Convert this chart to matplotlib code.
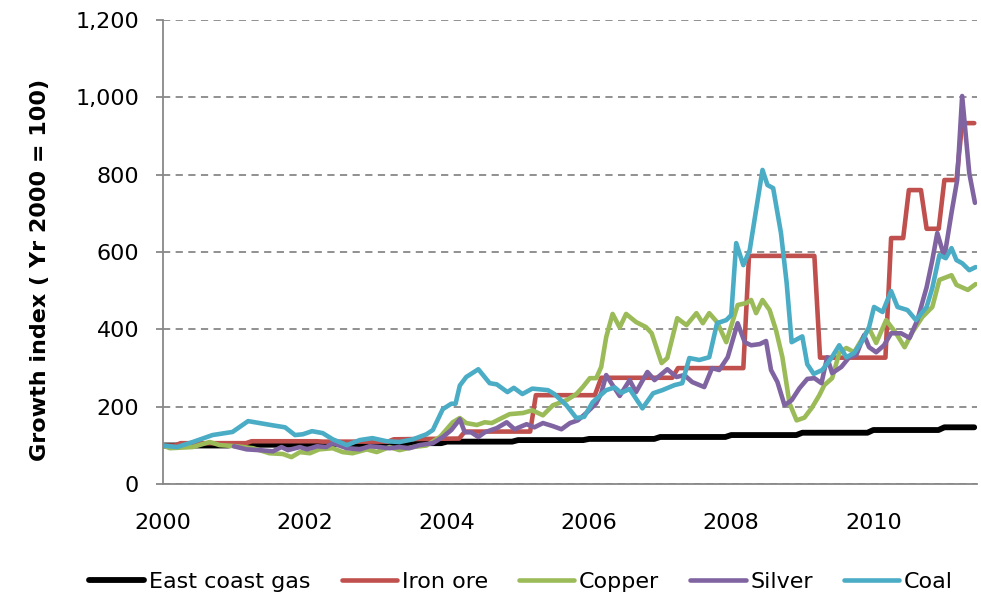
import matplotlib.pyplot as plt
from matplotlib.ticker import FuncFormatter

plt.rcParams['font.family'] = ['DejaVu Sans']

# East coast gas: annual contract index
GAS_YEARS = [2000, 2001, 2002, 2003, 2004, 2005, 2006, 2007, 2008, 2009, 2010, 2011]
GAS_VALUES = [100, 102, 104, 106, 110, 114, 117, 122, 127, 133, 140, 147]
GAS_END = 2011.42

IRON_X = [2000.0, 2000.17, 2000.25, 2001.17, 2001.25, 2002.17, 2002.25, 2003.17, 2003.25,
          2004.17, 2004.25, 2005.17, 2005.25, 2006.08, 2006.17, 2007.17, 2007.25, 2008.17,
          2008.25, 2009.17, 2009.25, 2010.17, 2010.25, 2010.42, 2010.5, 2010.67, 2010.75,
          2010.92, 2011.0, 2011.17, 2011.25, 2011.42]
IRON_Y = [100, 100, 106, 106, 111, 111, 110, 110, 116,
          118, 136, 136, 230, 230, 275, 275, 300, 300,
          590, 590, 327, 327, 636, 636, 760, 760, 660,
          660, 786, 786, 933, 933]

COPPER_X = [2000.0, 2000.1, 2000.42, 2000.66, 2000.8, 2001.04, 2001.27, 2001.5, 2001.69, 2001.81,
            2001.93, 2002.07, 2002.2, 2002.39, 2002.53, 2002.67, 2002.87, 2003.01, 2003.19, 2003.33,
            2003.52, 2003.71, 2003.9, 2004.08, 2004.18, 2004.27, 2004.42, 2004.53, 2004.63, 2004.77,
            2004.88, 2005.07, 2005.2, 2005.35, 2005.49, 2005.68, 2005.82, 2005.91, 2006.01, 2006.1,
            2006.17, 2006.24, 2006.33, 2006.43, 2006.52, 2006.66, 2006.8, 2006.88, 2007.02, 2007.1,
            2007.24, 2007.37, 2007.51, 2007.6, 2007.69, 2007.8, 2007.93, 2008.09, 2008.21, 2008.28,
            2008.35, 2008.44, 2008.54, 2008.63, 2008.72, 2008.82, 2008.92, 2009.03, 2009.14, 2009.24,
            2009.31, 2009.42, 2009.52, 2009.62, 2009.73, 2009.85, 2009.94, 2010.04, 2010.18, 2010.32,
            2010.44, 2010.55, 2010.69, 2010.83, 2010.93, 2011.1, 2011.17, 2011.33, 2011.44]
COPPER_Y = [100, 93, 96, 109, 101, 98, 93, 80, 78, 70,
            83, 80, 90, 93, 83, 80, 90, 83, 96, 88,
            96, 100, 122, 160, 171, 158, 153, 160, 158, 171,
            181, 184, 191, 178, 204, 217, 233, 251, 274, 274,
            303, 380, 440, 405, 440, 419, 406, 390, 313, 326,
            429, 411, 442, 416, 442, 419, 367, 463, 468, 476,
            442, 476, 450, 398, 328, 209, 165, 172, 199, 230,
            256, 274, 339, 352, 341, 378, 403, 365, 424, 390,
            354, 393, 432, 458, 528, 540, 515, 502, 517]

SILVER_X = [2001.0, 2001.18, 2001.36, 2001.55, 2001.67, 2001.76, 2001.93, 2002.03, 2002.17, 2002.3,
            2002.39, 2002.59, 2002.77, 2002.91, 2003.05, 2003.19, 2003.33, 2003.47, 2003.61, 2003.8,
            2003.94, 2004.06, 2004.18, 2004.25, 2004.34, 2004.44, 2004.53, 2004.7, 2004.84, 2004.95,
            2005.12, 2005.23, 2005.35, 2005.49, 2005.61, 2005.73, 2005.84, 2005.96, 2006.1, 2006.17,
            2006.24, 2006.33, 2006.43, 2006.57, 2006.66, 2006.82, 2006.92, 2007.1, 2007.23, 2007.34,
            2007.45, 2007.62, 2007.73, 2007.83, 2007.95, 2008.09, 2008.19, 2008.28, 2008.4, 2008.49,
            2008.56, 2008.65, 2008.75, 2008.85, 2008.96, 2009.07, 2009.17, 2009.27, 2009.35, 2009.42,
            2009.55, 2009.66, 2009.76, 2009.87, 2009.94, 2010.04, 2010.15, 2010.25, 2010.39, 2010.51,
            2010.62, 2010.75, 2010.83, 2010.9, 2011.0, 2011.1, 2011.18, 2011.25, 2011.35, 2011.43]
SILVER_Y = [98, 90, 88, 85, 96, 88, 96, 90, 98, 96,
            106, 93, 90, 98, 96, 93, 96, 93, 101, 106,
            122, 140, 168, 134, 134, 122, 134, 145, 160, 142,
            155, 147, 158, 150, 142, 158, 165, 184, 209, 235,
            282, 256, 228, 269, 238, 290, 269, 297, 277, 282,
            264, 251, 300, 295, 328, 416, 367, 359, 362, 370,
            295, 264, 204, 217, 248, 272, 274, 261, 328, 287,
            303, 328, 334, 385, 354, 341, 359, 390, 390, 378,
            424, 509, 579, 649, 587, 701, 786, 1003, 804, 727]

COAL_X = [2000.0, 2000.2, 2000.42, 2000.7, 2000.98, 2001.2, 2001.36, 2001.55, 2001.72, 2001.86,
          2001.97, 2002.1, 2002.25, 2002.39, 2002.59, 2002.77, 2002.95, 2003.15, 2003.33, 2003.52,
          2003.71, 2003.8, 2003.94, 2004.06, 2004.12, 2004.18, 2004.27, 2004.44, 2004.6, 2004.7,
          2004.85, 2004.94, 2005.06, 2005.2, 2005.42, 2005.51, 2005.68, 2005.82, 2005.93, 2006.05,
          2006.24, 2006.36, 2006.45, 2006.57, 2006.75, 2006.9, 2007.03, 2007.2, 2007.31, 2007.41,
          2007.55, 2007.69, 2007.8, 2007.93, 2008.0, 2008.07, 2008.17, 2008.26, 2008.35, 2008.44,
          2008.51, 2008.59, 2008.7, 2008.78, 2008.85, 2009.0, 2009.07, 2009.16, 2009.28, 2009.41,
          2009.52, 2009.62, 2009.73, 2009.85, 2009.94, 2010.01, 2010.13, 2010.25, 2010.34, 2010.48,
          2010.6, 2010.75, 2010.83, 2010.93, 2011.02, 2011.1, 2011.17, 2011.25, 2011.35, 2011.44]
COAL_Y = [100, 96, 109, 127, 135, 163, 158, 152, 147, 127,
          129, 137, 132, 116, 101, 114, 119, 111, 109, 116,
          129, 140, 194, 208, 208, 255, 277, 297, 261, 258,
          238, 249, 233, 247, 243, 233, 204, 171, 174, 212,
          243, 250, 236, 246, 196, 235, 243, 256, 261, 326,
          321, 328, 416, 424, 437, 623, 566, 605, 709, 812,
          773, 765, 649, 520, 367, 382, 310, 285, 295, 326,
          359, 328, 339, 372, 406, 458, 445, 499, 458, 450,
          424, 458, 507, 592, 584, 610, 579, 571, 553, 561]

# step line for the annual gas index, one month ramp at each new year
gas_x, gas_y = [], []
for i, (yr, val) in enumerate(zip(GAS_YEARS, GAS_VALUES)):
    gas_x.append(yr)
    gas_y.append(val)
    end = GAS_YEARS[i + 1] - 1 / 12 if i + 1 < len(GAS_YEARS) else GAS_END
    gas_x.append(end)
    gas_y.append(val)

fig = plt.figure(figsize=(9.81, 6.0), dpi=100)
ax = fig.add_axes([0.166, 0.193, 0.830, 0.774])

lw = 3.3
ax.plot(gas_x, gas_y, color='#000000', lw=4.2, label='East coast gas', solid_capstyle='round')
ax.plot(IRON_X, IRON_Y, color='#C0504D', lw=lw, label='Iron ore', solid_capstyle='round')
ax.plot(COPPER_X, COPPER_Y, color='#9BBB59', lw=lw, label='Copper', solid_capstyle='round')
ax.plot(SILVER_X, SILVER_Y, color='#8064A2', lw=lw, label='Silver', solid_capstyle='round')
ax.plot(COAL_X, COAL_Y, color='#4BACC6', lw=lw, label='Coal', solid_capstyle='round')

ax.set_xlim(2000, 2011.46)
ax.set_ylim(0, 1200)
ax.set_yticks(range(0, 1201, 200))
ax.set_xticks([2000, 2002, 2004, 2006, 2008, 2010])
ax.yaxis.set_major_formatter(FuncFormatter(lambda v, p: f'{int(v):,}'))
ax.yaxis.grid(True, linestyle=(0, (4, 3)), color='#888888', lw=1.3)
ax.set_axisbelow(True)

for s in ['top', 'right']:
    ax.spines[s].set_visible(False)
for s in ['left', 'bottom']:
    ax.spines[s].set_color('#888888')
    ax.spines[s].set_linewidth(1.3)

ax.tick_params(axis='y', direction='out', length=5, width=1.3, color='#888888',
               labelsize=16, pad=12)
ax.tick_params(axis='x', length=0, labelsize=16, pad=21)

ax.set_ylabel('Growth index ( Yr 2000 = 100)', fontsize=16, fontweight='bold')
ax.yaxis.set_label_coords(-0.139, 0.461)

fig.legend(loc='center', bbox_to_anchor=(0.531, 0.03), ncol=5, frameon=False,
           fontsize=16, handlelength=2.5, handletextpad=0.2, columnspacing=1.4)

fig.savefig('out.png', dpi=100)
